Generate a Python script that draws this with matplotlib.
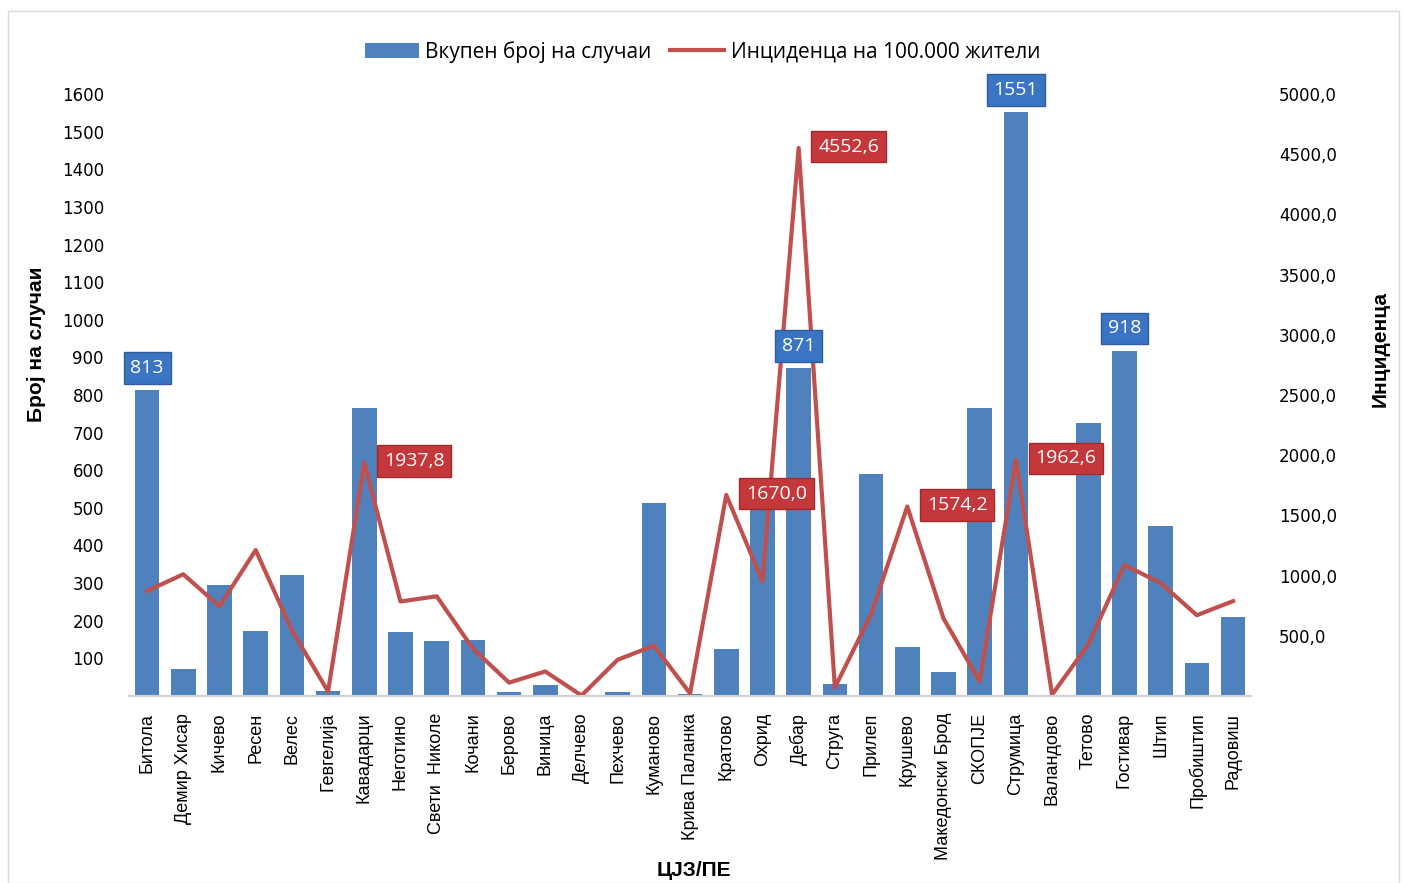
import numpy as np
import matplotlib.pyplot as plt
from matplotlib.patches import Rectangle

districts = ['Битола', 'Демир Хисар', 'Кичево', 'Ресен', 'Велес', 'Гевгелија',
             'Кавадарци', 'Неготино', 'Свети  Николе', 'Кочани', 'Берово', 'Виница',
             'Делчево', 'Пехчево', 'Куманово', 'Крива Паланка', 'Кратово', 'Охрид',
             'Дебар', 'Струга', 'Прилеп', 'Крушево', 'Македонски Брод', 'СКОПЈЕ',
             'Струмица', 'Валандово', 'Тетово', 'Гостивар', 'Штип', 'Пробиштип', 'Радовиш']
cases = [813, 73, 294, 174, 321, 12, 765, 171, 145, 149, 10, 28,
         0, 10, 514, 5, 124, 510, 871, 32, 589, 130, 64, 765,
         1551, 0, 725, 918, 452, 88, 211]
incidence = [872, 1011, 745, 1212, 545, 37, 1937.8, 785, 828, 394, 111, 204,
             4, 301, 418, 21, 1670.0, 952, 4552.6, 70, 678, 1574.2, 645, 121,
             1962.6, 11, 428, 1088, 938, 671, 788]
left_ticks = list(range(100, 1700, 100))
right_ticks = list(range(500, 5500, 500))

bar_labelled = [0, 18, 24, 27]
line_labelled = [6, 16, 18, 21, 24]

blue = '#4f81bd'
red = '#c0504d'

fig = plt.figure(figsize=(14.05, 8.83), dpi=100)
fig.patches.append(Rectangle((0.006, 0.0), 0.99, 0.988, transform=fig.transFigure,
                             fill=False, edgecolor='#d9d9d9', linewidth=1))
ax = fig.add_axes([0.0918, 0.2118, 0.7987, 0.6817])
ax2 = ax.twinx()

x = np.arange(len(districts))
bars = ax.bar(x, cases, width=0.68, color=blue, label='Вкупен број на случаи', zorder=2)
line, = ax2.plot(x, incidence, color=red, linewidth=3, label='Инциденца на 100.000 жители')

ax.set_xlim(-0.5, len(districts) - 0.5)
ax.set_ylim(0, 1600)
ax2.set_ylim(0, 5000)
ax.set_yticks(left_ticks)
ax.set_yticklabels([str(v) for v in left_ticks], family='DejaVu Sans', fontsize=12)
ax2.set_yticks(right_ticks)
ax2.set_yticklabels([f'{v:.1f}'.replace('.', ',') for v in right_ticks],
                    family='DejaVu Sans', fontsize=12)
ax.set_xticks(x)
ax.set_xticklabels(districts, rotation=90, family='Liberation Sans', fontsize=13)

for a in (ax, ax2):
    for s in ('top', 'left', 'right'):
        a.spines[s].set_visible(False)
    a.spines['bottom'].set_color('#d0d0d0')
    a.spines['bottom'].set_linewidth(1.5)
ax.tick_params(axis='y', length=0, pad=18)
ax2.tick_params(axis='y', length=0, pad=20)
ax.tick_params(axis='x', length=0, pad=12)

fig.text(0.026, 0.61, 'Број на случаи', family='Liberation Sans', fontsize=15,
         fontweight='bold', rotation=90, ha='center', va='center')
fig.text(0.982, 0.605, 'Инциденца', family='Liberation Sans', fontsize=15,
         fontweight='bold', rotation=90, ha='center', va='center')
fig.text(0.494, 0.003, 'ЦЈЗ/ПЕ', family='Liberation Sans', fontsize=15,
         fontweight='bold', ha='center', va='bottom')

for i in bar_labelled:
    ax2.annotate(str(cases[i]), (x[i], cases[i]), xycoords=ax.transData,
                 xytext=(0, 16), textcoords='offset points',
                 ha='center', va='center', color='white', fontsize=14, family='Open Sans',
                 bbox=dict(boxstyle='square,pad=0.35', fc='#3b74c2', ec='#2f5f9e', lw=1),
                 zorder=5)
for i in line_labelled:
    ax2.annotate(f'{incidence[i]:.1f}'.replace('.', ','), (x[i], incidence[i]),
                 xytext=(36, 1), textcoords='offset points',
                 ha='center', va='center', color='white', fontsize=14, family='Open Sans',
                 bbox=dict(boxstyle='square,pad=0.35', fc='#c4373a', ec='#a52a2d', lw=1),
                 zorder=5)

fig.legend(handles=[bars, line], loc='upper center', bbox_to_anchor=(0.5, 0.975),
           ncol=2, frameon=False, handlelength=2.6, columnspacing=0.9,
           handletextpad=0.3, prop={'family': 'Open Sans', 'size': 15})

fig.savefig('out.png', dpi=100)
